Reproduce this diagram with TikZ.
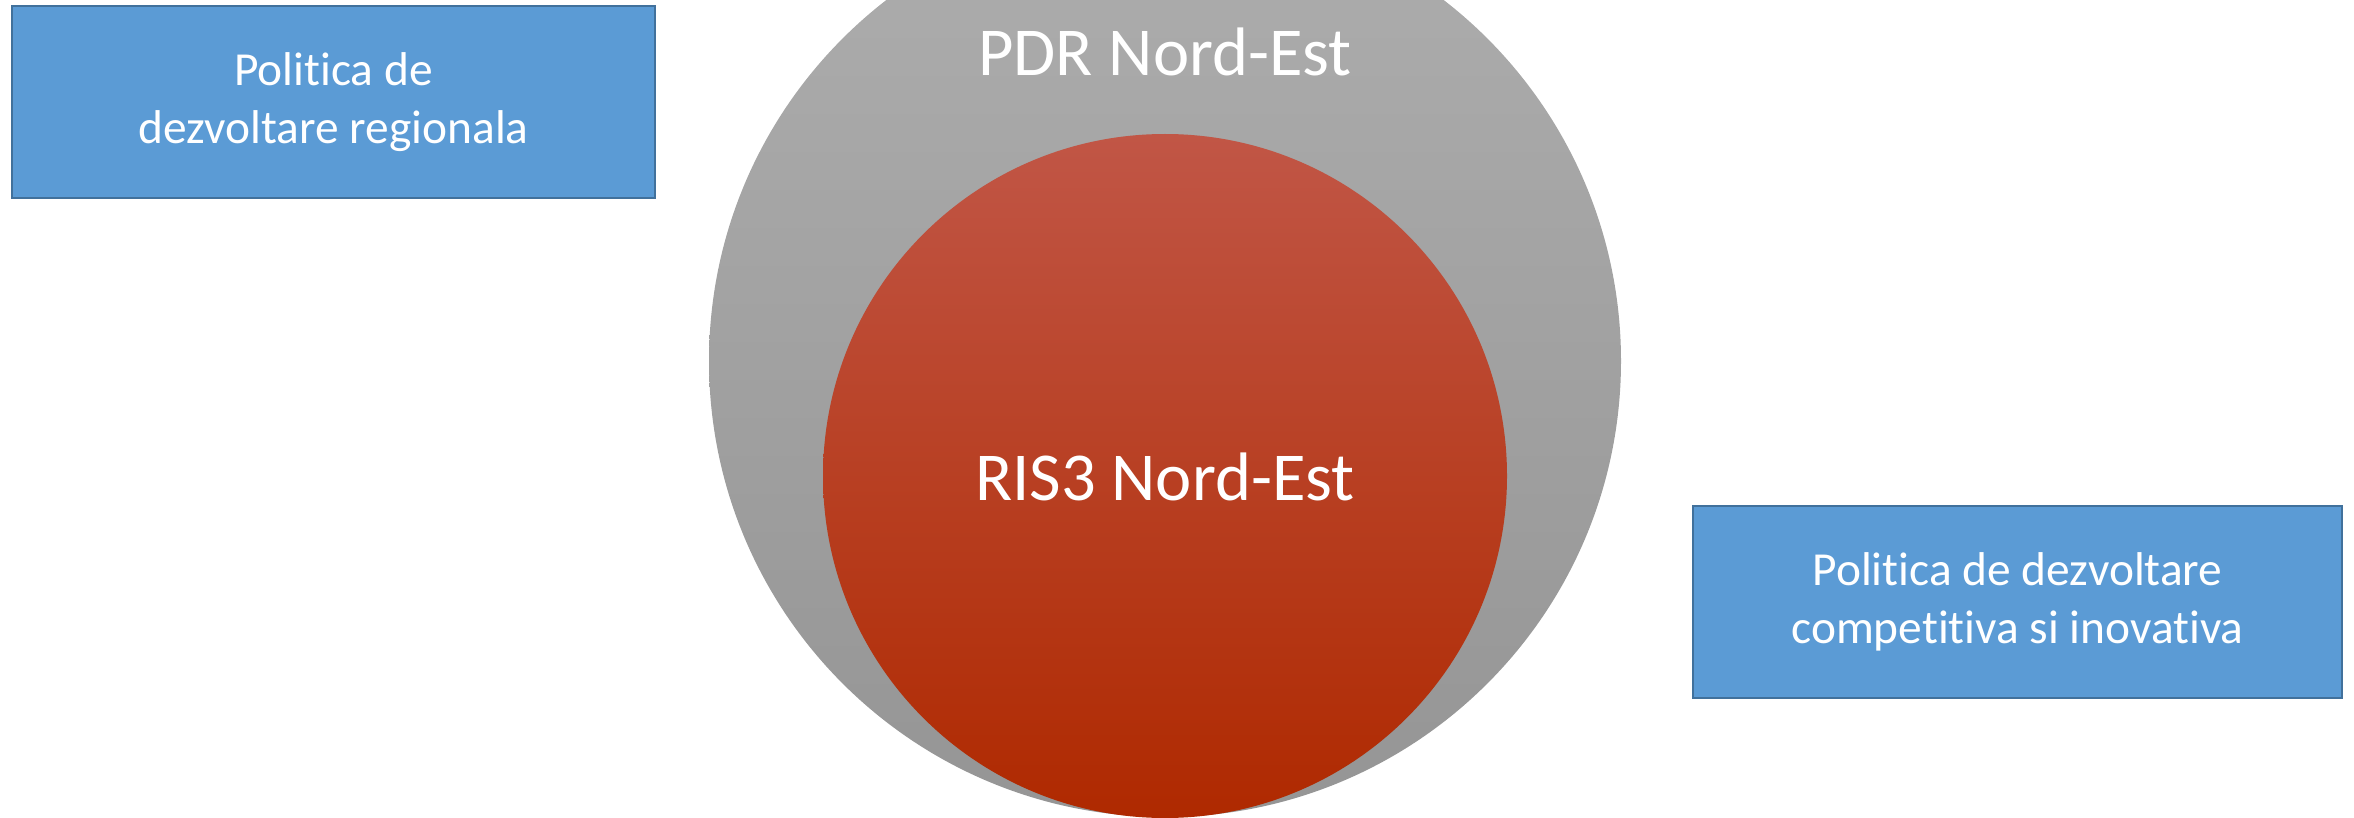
\documentclass[tikz,border=0pt]{standalone}
\usepackage{fontspec}
\setmainfont[Ligatures=NoCommon]{Carlito}
\definecolor{boxfill}{RGB}{91,155,213}
\definecolor{boxline}{RGB}{65,113,156}
\definecolor{graytop}{RGB}{173,173,173}
\definecolor{graymid}{RGB}{164,164,164}
\definecolor{graybot}{RGB}{149,149,149}
\definecolor{redtop}{RGB}{193,86,70}
\definecolor{redmid}{RGB}{187,50,8}
\definecolor{redbot}{RGB}{175,41,0}
\tikzset{
  bluebox/.style={draw=boxline, line width=2pt, fill=boxfill, minimum width=643pt, minimum height=192pt,
    inner sep=0pt, align=center, text=white, font=\fontsize{47.4}{58.5}\selectfont},
  bigtext/.style={text=white, inner sep=0pt, font=\fontsize{68.6}{82}\selectfont},
}
\begin{document}
\begin{tikzpicture}[x=1pt,y=-1pt]
\useasboundingbox (0,0) rectangle (2354,818);
\clip (0,0) rectangle (2354,818);
\node[circle, minimum size=912pt, inner sep=0pt, top color=graytop, middle color=graymid, bottom color=graybot] (pdr) at (1165,361) {};
\node[circle, minimum size=684pt, inner sep=0pt, top color=redtop, middle color=redmid, bottom color=redbot] (ris) at (1165,476) {};
\node[bigtext] (pdrlabel) at (1165,52) {PDR Nord-Est};
\node[bigtext] (rislabel) at (1165,477) {RIS3 Nord-Est};
\node[bluebox] (left) at (333.5,102) {Politica de\\dezvoltare regionala};
\node[bluebox, minimum width=649pt] (right) at (2017.5,602) {Politica de dezvoltare\\competitiva si inovativa};
\end{tikzpicture}
\end{document}
